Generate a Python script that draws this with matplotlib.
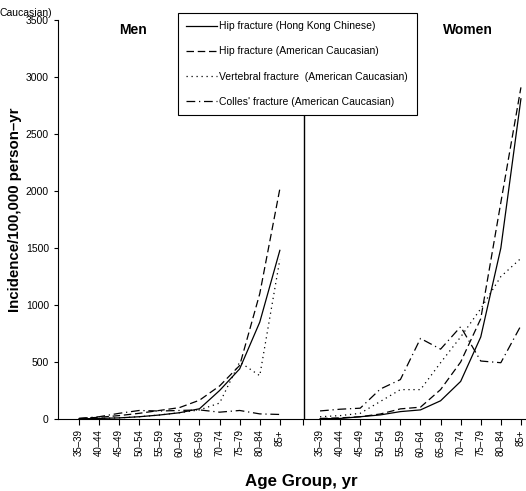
import matplotlib.pyplot as plt

plt.rcParams['font.family'] = ['Liberation Sans', 'DejaVu Sans']

age_groups = ['35–39', '40–44', '45–49', '50–54', '55–59', '60–64',
              '65–69', '70–74', '75–79', '80–84', '85+']

# men
men_hip_hk = [2, 5, 10, 20, 35, 55, 90, 250, 440, 850, 1480]
men_hip_us = [5, 15, 30, 50, 75, 100, 165, 290, 470, 1100, 2020]
men_vert_us = [2, 5, 10, 20, 35, 55, 80, 140, 500, 380, 1400]
men_colles_us = [5, 20, 50, 75, 70, 75, 80, 60, 75, 45, 40]

# women
women_hip_hk = [2, 5, 20, 36, 65, 80, 160, 330, 720, 1500, 2810]
women_hip_us = [5, 10, 20, 44, 89, 104, 258, 500, 880, 1900, 2910]
women_vert_us = [20, 30, 50, 154, 258, 258, 494, 720, 968, 1250, 1410]
women_colles_us = [71, 86, 95, 263, 346, 707, 613, 810, 509, 494, 820]

labels = ['Hip fracture (Hong Kong Chinese)',
          'Hip fracture (American Caucasian)',
          'Vertebral fracture  (American Caucasian)',
          "Colles' fracture (American Caucasian)"]
styles = ['-', (0, (6, 3)), (0, (1, 3)), (0, (7, 3, 1, 3))]

men_x = list(range(len(age_groups)))
women_x = [i + 12 for i in men_x]

fig = plt.figure(figsize=(5.26, 4.91), dpi=100)
ax = fig.add_axes([0.110, 0.1466, 0.888, 0.8124])

men = [men_hip_hk, men_hip_us, men_vert_us, men_colles_us]
women = [women_hip_hk, women_hip_us, women_vert_us, women_colles_us]
for m, w, ls, lab in zip(men, women, styles, labels):
    ax.plot(men_x, m, color='black', lw=0.9, linestyle=ls, label=lab)
    ax.plot(women_x, w, color='black', lw=0.9, linestyle=ls)

ax.axvline(11.2, color='black', lw=1.0, zorder=1)

ax.set_xlim(-1.05, 22.2)
ax.set_ylim(0, 3500)
ax.set_xticks(men_x + [11.15] + women_x)
ax.set_xticklabels(age_groups + [''] + age_groups, rotation=90, fontsize=7)
ax.set_yticks(range(0, 3501, 500))
ax.tick_params(axis='y', labelsize=7.5, length=3, direction='out')
ax.tick_params(axis='x', length=4, direction='out')
for s in ['top', 'right']:
    ax.spines[s].set_visible(False)

ax.set_ylabel('Incidence/100,000 person–yr', fontsize=10.8, fontweight='bold')
ax.yaxis.set_label_coords(-0.077, 0.524)
fig.text(0.572, 0.02, 'Age Group, yr', fontsize=12.2, fontweight='bold',
         ha='center', va='center')

fig.text(0.253, 0.93, 'Men', fontsize=10, fontweight='bold', ha='center')
fig.text(0.889, 0.93, 'Women', fontsize=10, fontweight='bold', ha='center')
fig.text(0.0, 0.967, 'Caucasian)', fontsize=7.5, ha='left')

leg = fig.legend(loc='upper left', bbox_to_anchor=(0.338, 0.9735), fontsize=7.5,
                 handlelength=3.0, handletextpad=0.2, labelspacing=1.45,
                 borderpad=0.8, borderaxespad=0, fancybox=False,
                 edgecolor='black', framealpha=1)
leg.get_frame().set_linewidth(0.8)

fig.savefig('out.png', dpi=100)
